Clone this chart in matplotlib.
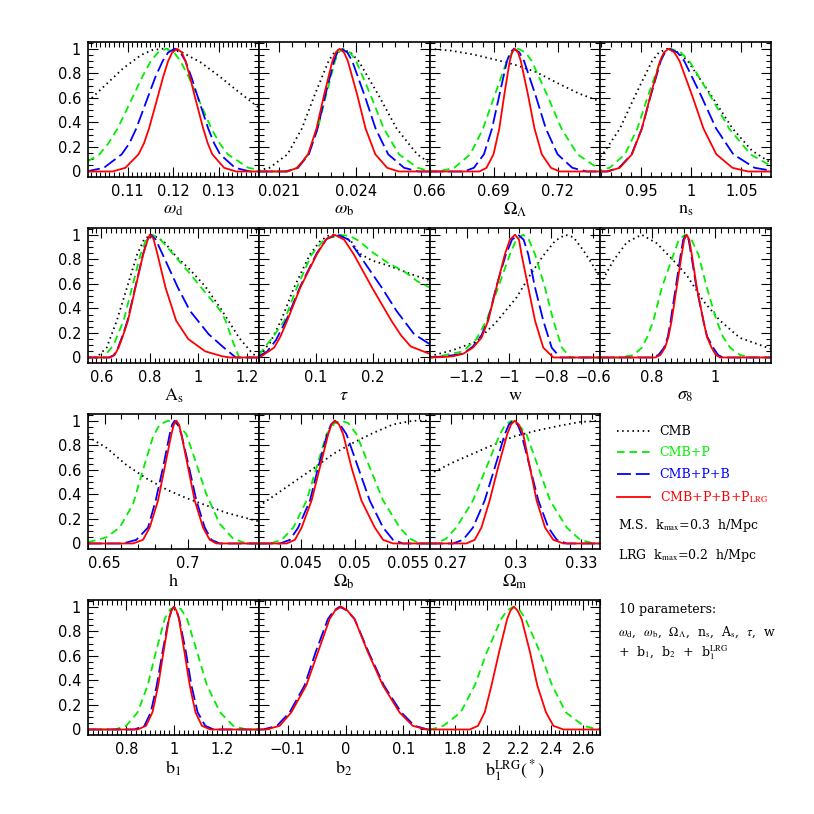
import matplotlib
matplotlib.use('Agg')
import matplotlib.pyplot as plt
from matplotlib.ticker import FixedLocator, MultipleLocator, NullFormatter

plt.rcParams['font.family'] = ['DejaVu Sans']
plt.rcParams['mathtext.fontset'] = 'stix'
plt.rcParams['lines.scale_dashes'] = False

# ---- curves: (x, normalised likelihood) ----
# omega_d
wd_cmb = [(0.1013, 0.57), (0.105, 0.70), (0.109, 0.84), (0.113, 0.95), (0.1155, 0.99), (0.1178, 1.0),
          (0.120, 0.99), (0.122, 0.97), (0.126, 0.89), (0.130, 0.78), (0.134, 0.66), (0.1388, 0.52)]
wd_p = [(0.0989, 0.03), (0.1038, 0.14), (0.1058, 0.23), (0.1078, 0.35), (0.1113, 0.62), (0.1132, 0.77),
        (0.1151, 0.90), (0.1167, 0.97), (0.1185, 1.0), (0.1202, 0.97), (0.1216, 0.90), (0.1234, 0.77),
        (0.1252, 0.62), (0.1284, 0.35), (0.1302, 0.23), (0.1320, 0.14), (0.1365, 0.03), (0.1409, 0.0)]
wd_pb = [(0.1009, 0.0), (0.1048, 0.03), (0.1087, 0.14), (0.1104, 0.23), (0.1119, 0.35), (0.1146, 0.62),
         (0.1161, 0.77), (0.1177, 0.90), (0.1189, 0.97), (0.1204, 1.0), (0.1216, 0.97), (0.1227, 0.90),
         (0.1240, 0.77), (0.1253, 0.62), (0.1277, 0.35), (0.1290, 0.23), (0.1303, 0.14), (0.1336, 0.03),
         (0.1369, 0.0), (0.1390, 0.0)]
wd_lrg = [(0.1010, 0.0), (0.1067, 0.0), (0.1095, 0.03), (0.1124, 0.14), (0.1136, 0.23), (0.1147, 0.35),
          (0.1167, 0.62), (0.1178, 0.77), (0.1189, 0.90), (0.1198, 0.97), (0.1209, 1.0), (0.1219, 0.97),
          (0.1227, 0.90), (0.1237, 0.77), (0.1247, 0.62), (0.1266, 0.35), (0.1276, 0.23), (0.1286, 0.14),
          (0.1312, 0.03), (0.1338, 0.0), (0.1390, 0.0)]

# omega_b
wb_cmb = [(0.0202, 0.01), (0.02062, 0.03), (0.02132, 0.14), (0.02188, 0.35), (0.02237, 0.62), (0.02292, 0.90),
          (0.02314, 0.97), (0.0234, 1.0), (0.02377, 0.97), (0.02409, 0.90), (0.02487, 0.62), (0.02557, 0.35),
          (0.02637, 0.14), (0.02685, 0.07)]
wb_p = [(0.0202, 0.0), (0.02124, 0.0), (0.02168, 0.03), (0.02213, 0.14), (0.0225, 0.35), (0.02282, 0.62),
        (0.02317, 0.90), (0.02331, 0.97), (0.02348, 1.0), (0.02375, 0.97), (0.02399, 0.90), (0.02456, 0.62),
        (0.02507, 0.35), (0.02566, 0.14), (0.02639, 0.03), (0.0269, 0.0)]
wb_pb = [(0.0202, 0.0), (0.0213, 0.0), (0.02173, 0.03), (0.02215, 0.14), (0.02249, 0.35), (0.02279, 0.62),
         (0.02313, 0.90), (0.02326, 0.97), (0.02342, 1.0), (0.02365, 0.97), (0.02384, 0.90), (0.02432, 0.62),
         (0.02475, 0.35), (0.02524, 0.14), (0.02586, 0.03), (0.02642, 0.0), (0.0269, 0.0)]
wb_lrg = [(0.0202, 0.0), (0.0213, 0.0), (0.02171, 0.03), (0.02212, 0.14), (0.02245, 0.35), (0.02274, 0.62),
          (0.02307, 0.90), (0.0232, 0.97), (0.02335, 1.0), (0.02352, 0.97), (0.02367, 0.90), (0.02404, 0.62),
          (0.02436, 0.35), (0.02474, 0.14), (0.0252, 0.03), (0.02565, 0.0), (0.0269, 0.0)]

# Omega_Lambda
ol_cmb = [(0.66, 1.0), (0.67, 0.985), (0.68, 0.955), (0.69, 0.915), (0.70, 0.87), (0.71, 0.81),
          (0.72, 0.72), (0.73, 0.635), (0.74, 0.57)]
ol_p = [(0.66, 0.0), (0.6642, 0.0), (0.6716, 0.03), (0.6791, 0.14), (0.6851, 0.35), (0.6905, 0.62),
        (0.6963, 0.90), (0.6987, 0.97), (0.7015, 1.0), (0.7050, 0.97), (0.7079, 0.90), (0.7152, 0.62),
        (0.7218, 0.35), (0.7293, 0.14), (0.7386, 0.03), (0.74, 0.02)]
ol_pb = [(0.66, 0.0), (0.6762, 0.0), (0.6808, 0.03), (0.6855, 0.14), (0.6893, 0.35), (0.6927, 0.62),
         (0.6963, 0.90), (0.6978, 0.97), (0.6996, 1.0), (0.7021, 0.97), (0.7043, 0.90), (0.7097, 0.62),
         (0.7145, 0.35), (0.7200, 0.14), (0.7269, 0.03), (0.7336, 0.0), (0.74, 0.0)]
ol_lrg = [(0.66, 0.0), (0.6834, 0.0), (0.6867, 0.03), (0.6900, 0.14), (0.6927, 0.35), (0.6950, 0.62),
          (0.6976, 0.90), (0.6987, 0.97), (0.6999, 1.0), (0.7015, 0.97), (0.7028, 0.90), (0.7062, 0.62),
          (0.7092, 0.35), (0.7126, 0.14), (0.7169, 0.03), (0.7210, 0.0), (0.74, 0.0)]

# n_s
ns_cmb = [(0.9096, 0.12), (0.9120, 0.14), (0.9292, 0.35), (0.9444, 0.62), (0.9612, 0.90), (0.9680, 0.97),
          (0.976, 1.0), (0.9871, 0.97), (0.9967, 0.90), (1.0200, 0.62), (1.0412, 0.35), (1.0605, 0.17),
          (1.0795, 0.07)]
ns_p = [(0.904, 0.0), (0.9189, 0.03), (0.9342, 0.14), (0.9465, 0.35), (0.9573, 0.62), (0.9692, 0.90),
        (0.9741, 0.97), (0.9798, 1.0), (0.9897, 0.97), (0.9982, 0.90), (1.0189, 0.62), (1.0378, 0.35),
        (1.0591, 0.14), (1.0795, 0.045)]
ns_pb = [(0.9096, 0.0), (0.9158, 0.0), (0.9282, 0.03), (0.9408, 0.14), (0.9510, 0.35), (0.9599, 0.62),
         (0.9698, 0.90), (0.9738, 0.97), (0.9785, 1.0), (0.9864, 0.97), (0.9932, 0.90), (1.0098, 0.62),
         (1.0249, 0.35), (1.0420, 0.14), (1.0632, 0.03), (1.0795, 0.007)]
ns_lrg = [(0.9096, 0.0), (0.9171, 0.0), (0.9290, 0.03), (0.9412, 0.14), (0.9510, 0.35), (0.9596, 0.62),
          (0.9691, 0.90), (0.9730, 0.97), (0.9775, 1.0), (0.9834, 0.97), (0.9885, 0.90), (1.0010, 0.62),
          (1.0123, 0.35), (1.0251, 0.14), (1.0411, 0.03), (1.0565, 0.0), (1.0795, 0.0)]

# A_s
as_cmb = [(0.53, 0.0), (0.58, 0.0), (0.622, 0.08), (0.664, 0.30), (0.706, 0.57), (0.748, 0.84),
          (0.776, 0.96), (0.804, 1.0), (0.83, 0.98), (0.86, 0.94), (0.91, 0.82), (0.959, 0.73),
          (1.029, 0.58), (1.099, 0.38), (1.169, 0.16), (1.225, 0.03), (1.25, 0.0)]
as_p = [(0.53, 0.0), (0.608, 0.0), (0.65, 0.10), (0.692, 0.30), (0.727, 0.57), (0.762, 0.84),
        (0.785, 0.96), (0.811, 1.0), (0.84, 0.97), (0.88, 0.88), (0.959, 0.70), (1.029, 0.53),
        (1.092, 0.38), (1.113, 0.30), (1.141, 0.14), (1.169, 0.0), (1.25, 0.0)]
as_pb = [(0.53, 0.0), (0.632, 0.0), (0.652, 0.02), (0.669, 0.08), (0.69, 0.19), (0.708, 0.30),
         (0.740, 0.57), (0.772, 0.84), (0.79, 0.96), (0.804, 1.0), (0.825, 0.96), (0.853, 0.84),
         (0.916, 0.57), (0.966, 0.38), (1.043, 0.19), (1.106, 0.08), (1.155, 0.0), (1.25, 0.0)]
as_lrg = [(0.53, 0.0), (0.636, 0.0), (0.655, 0.02), (0.671, 0.08), (0.69, 0.18), (0.710, 0.30),
          (0.741, 0.57), (0.773, 0.84), (0.79, 0.95), (0.80, 1.0), (0.815, 0.97), (0.832, 0.84),
          (0.865, 0.57), (0.909, 0.30), (0.959, 0.15), (1.029, 0.05), (1.099, 0.01), (1.13, 0.0), (1.25, 0.0)]

# tau
tau_cmb = [(0.0, 0.03), (0.005, 0.04), (0.02, 0.12), (0.039, 0.30), (0.062, 0.57), (0.090, 0.84),
           (0.108, 0.95), (0.125, 1.0), (0.145, 0.99), (0.162, 0.95), (0.176, 0.85), (0.199, 0.79),
           (0.227, 0.75), (0.250, 0.71), (0.273, 0.67), (0.30, 0.63)]
tau_p = [(0.0, 0.02), (0.010, 0.08), (0.027, 0.18), (0.045, 0.30), (0.067, 0.57), (0.093, 0.84),
         (0.115, 0.96), (0.142, 1.0), (0.160, 0.99), (0.176, 0.95), (0.199, 0.86), (0.227, 0.77),
         (0.256, 0.70), (0.279, 0.62), (0.30, 0.57)]
tau_pb = [(0.0, 0.01), (0.015, 0.05), (0.030, 0.14), (0.050, 0.32), (0.073, 0.58), (0.102, 0.85),
          (0.12, 0.97), (0.139, 1.0), (0.158, 0.96), (0.176, 0.84), (0.216, 0.57), (0.242, 0.38),
          (0.273, 0.19), (0.30, 0.11)]
tau_lrg = [(0.0, 0.0), (0.0046, 0.01), (0.027, 0.08), (0.038, 0.17), (0.050, 0.30), (0.073, 0.57),
           (0.102, 0.84), (0.118, 0.96), (0.133, 1.0), (0.150, 0.96), (0.167, 0.84), (0.199, 0.57),
           (0.233, 0.30), (0.250, 0.18), (0.267, 0.09), (0.30, 0.03)]

# w
w_cmb = [(-1.376, 0.01), (-1.265, 0.06), (-1.154, 0.13), (-1.059, 0.29), (-0.963, 0.49), (-0.90, 0.67),
         (-0.837, 0.83), (-0.781, 0.95), (-0.733, 1.0), (-0.694, 0.98), (-0.646, 0.87), (-0.598, 0.74),
         (-0.567, 0.65)]
w_p = [(-1.376, 0.0), (-1.329, 0.01), (-1.217, 0.05), (-1.154, 0.15), (-1.106, 0.30), (-1.051, 0.57),
       (-0.995, 0.84), (-0.965, 0.96), (-0.932, 1.0), (-0.905, 0.96), (-0.876, 0.84), (-0.829, 0.57),
       (-0.789, 0.30), (-0.749, 0.08), (-0.710, 0.0), (-0.567, 0.0)]
w_pb = [(-1.376, 0.0), (-1.30, 0.01), (-1.217, 0.03), (-1.17, 0.09), (-1.13, 0.18), (-1.098, 0.31),
        (-1.059, 0.58), (-1.014, 0.84), (-0.985, 0.96), (-0.956, 1.0), (-0.93, 0.96), (-0.908, 0.84),
        (-0.876, 0.57), (-0.837, 0.30), (-0.797, 0.08), (-0.757, 0.0), (-0.567, 0.0)]
w_lrg = [(-1.376, 0.0), (-1.30, 0.005), (-1.265, 0.01), (-1.217, 0.03), (-1.170, 0.08), (-1.130, 0.16),
         (-1.098, 0.30), (-1.059, 0.57), (-1.019, 0.84), (-0.995, 0.96), (-0.971, 1.0), (-0.952, 0.96),
         (-0.940, 0.84), (-0.908, 0.57), (-0.876, 0.30), (-0.837, 0.08), (-0.789, 0.0), (-0.567, 0.0)]

# sigma_8
s8_cmb = [(0.635, 0.60), (0.640, 0.62), (0.677, 0.79), (0.720, 0.94), (0.767, 1.0), (0.815, 0.93),
          (0.868, 0.79), (0.910, 0.67), (0.963, 0.46), (1.016, 0.30), (1.079, 0.16), (1.178, 0.07)]
s8_p = [(0.635, 0.0), (0.698, 0.0), (0.741, 0.02), (0.767, 0.08), (0.785, 0.17), (0.804, 0.30),
        (0.831, 0.57), (0.868, 0.84), (0.885, 0.96), (0.905, 1.0), (0.925, 0.96), (0.947, 0.84),
        (0.974, 0.57), (1.005, 0.30), (1.025, 0.17), (1.048, 0.08), (1.08, 0.02), (1.111, 0.0), (1.178, 0.0)]
s8_pb = [(0.635, 0.0), (0.800, 0.0), (0.82, 0.02), (0.838, 0.08), (0.850, 0.17), (0.859, 0.30),
         (0.875, 0.57), (0.891, 0.84), (0.899, 0.96), (0.907, 1.0), (0.916, 0.96), (0.924, 0.84),
         (0.941, 0.57), (0.963, 0.30), (0.975, 0.17), (0.994, 0.08), (1.01, 0.02), (1.025, 0.0), (1.178, 0.0)]
s8_lrg = [(0.635, 0.0), (0.810, 0.0), (0.826, 0.02), (0.841, 0.08), (0.852, 0.17), (0.862, 0.30),
          (0.878, 0.57), (0.894, 0.84), (0.902, 0.96), (0.910, 1.0), (0.918, 0.96), (0.926, 0.84),
          (0.942, 0.57), (0.963, 0.30), (0.974, 0.17), (0.989, 0.08), (1.003, 0.02), (1.016, 0.0), (1.178, 0.0)]

# h
h_cmb = [(0.640, 0.87), (0.651, 0.78), (0.663, 0.64), (0.675, 0.53), (0.687, 0.44), (0.699, 0.37),
         (0.711, 0.31), (0.723, 0.25), (0.7424, 0.18)]
h_p = [(0.64, 0.01), (0.651, 0.05), (0.659, 0.13), (0.667, 0.32), (0.673, 0.60), (0.679, 0.87),
       (0.683, 0.97), (0.688, 1.0), (0.694, 0.97), (0.699, 0.89), (0.705, 0.65), (0.711, 0.40),
       (0.719, 0.16), (0.727, 0.04), (0.735, 0.0), (0.7424, 0.0)]
h_pb = [(0.64, 0.0), (0.661, 0.0), (0.669, 0.03), (0.676, 0.13), (0.6806, 0.35), (0.685, 0.62),
        (0.689, 0.89), (0.6905, 0.97), (0.692, 1.0), (0.6937, 0.97), (0.696, 0.89), (0.7006, 0.62),
        (0.705, 0.35), (0.710, 0.13), (0.714, 0.03), (0.719, 0.0), (0.7424, 0.0)]
h_lrg = [(0.64, 0.0), (0.667, 0.0), (0.673, 0.03), (0.677, 0.13), (0.682, 0.35), (0.686, 0.62),
         (0.690, 0.89), (0.6915, 0.97), (0.693, 1.0), (0.6945, 0.97), (0.696, 0.89), (0.700, 0.62),
         (0.704, 0.35), (0.709, 0.13), (0.713, 0.03), (0.717, 0.0), (0.7424, 0.0)]

# Omega_b
ob_cmb = [(0.04103, 0.30), (0.04112, 0.31), (0.04361, 0.46), (0.04611, 0.61), (0.04798, 0.73),
          (0.04984, 0.82), (0.05171, 0.90), (0.05358, 0.97), (0.05545, 1.0), (0.0570, 1.0)]
ob_p = [(0.041, 0.0), (0.04206, 0.0), (0.04315, 0.03), (0.04424, 0.13), (0.04548, 0.35), (0.04642, 0.62),
        (0.04735, 0.89), (0.0481, 0.98), (0.04875, 1.0), (0.0494, 0.98), (0.05016, 0.89), (0.0514, 0.62),
        (0.05265, 0.35), (0.05421, 0.13), (0.05514, 0.04), (0.05607, 0.0), (0.057, 0.0)]
ob_pb = [(0.041, 0.0), (0.04299, 0.0), (0.04393, 0.03), (0.0447, 0.13), (0.0458, 0.35), (0.04657, 0.62),
         (0.04741, 0.89), (0.04777, 0.97), (0.04813, 1.0), (0.0486, 0.97), (0.04922, 0.89), (0.05031, 0.62),
         (0.0514, 0.35), (0.05265, 0.13), (0.05358, 0.03), (0.05452, 0.0), (0.057, 0.0)]
ob_lrg = [(0.041, 0.0), (0.04361, 0.0), (0.04439, 0.03), (0.04502, 0.13), (0.04595, 0.35), (0.04673, 0.62),
          (0.04751, 0.89), (0.04782, 0.97), (0.04813, 1.0), (0.04852, 0.97), (0.04891, 0.89), (0.04969, 0.62),
          (0.05062, 0.35), (0.05187, 0.13), (0.05265, 0.03), (0.05358, 0.0), (0.057, 0.0)]

# Omega_m
om_cmb = [(0.2601, 0.565), (0.2709, 0.66), (0.2864, 0.78), (0.2988, 0.87), (0.3096, 0.92),
          (0.3204, 0.96), (0.3297, 0.99), (0.339, 1.0)]
om_p = [(0.26, 0.0), (0.2632, 0.0), (0.2678, 0.04), (0.2725, 0.13), (0.2802, 0.35), (0.2864, 0.62),
        (0.2926, 0.89), (0.2952, 0.97), (0.298, 1.0), (0.3012, 0.97), (0.3049, 0.89), (0.3104, 0.62),
        (0.3158, 0.35), (0.3235, 0.13), (0.3297, 0.03), (0.3359, 0.0), (0.339, 0.0)]
om_pb = [(0.26, 0.0), (0.2709, 0.0), (0.2756, 0.03), (0.2802, 0.13), (0.2856, 0.35), (0.2903, 0.62),
         (0.2949, 0.89), (0.2968, 0.97), (0.2988, 1.0), (0.3008, 0.97), (0.3026, 0.89), (0.3065, 0.62),
         (0.3104, 0.35), (0.315, 0.13), (0.3189, 0.03), (0.3235, 0.0), (0.339, 0.0)]
om_lrg = [(0.26, 0.0), (0.2771, 0.0), (0.281, 0.03), (0.2841, 0.13), (0.2879, 0.35), (0.2918, 0.62),
          (0.296, 0.89), (0.2978, 0.97), (0.2995, 1.0), (0.3013, 0.97), (0.3034, 0.89), (0.3065, 0.62),
          (0.3096, 0.35), (0.3135, 0.13), (0.3173, 0.03), (0.322, 0.0), (0.339, 0.0)]

# b_1
b1_p = [(0.64, 0.0), (0.752, 0.0), (0.80, 0.03), (0.848, 0.14), (0.890, 0.36), (0.924, 0.63),
        (0.961, 0.9), (0.984, 0.98), (1.007, 1.0), (1.03, 0.98), (1.055, 0.9), (1.097, 0.63),
        (1.138, 0.36), (1.193, 0.14), (1.248, 0.03), (1.303, 0.0), (1.355, 0.0)]
b1_pb = [(0.64, 0.0), (0.834, 0.0), (0.876, 0.03), (0.903, 0.14), (0.928, 0.36), (0.952, 0.63),
         (0.978, 0.9), (0.989, 0.97), (1.0, 1.0), (1.011, 0.97), (1.022, 0.9), (1.050, 0.63),
         (1.073, 0.36), (1.099, 0.14), (1.131, 0.03), (1.166, 0.0), (1.355, 0.0)]
b1_lrg = [(0.64, 0.0), (0.848, 0.0), (0.883, 0.03), (0.910, 0.14), (0.934, 0.36), (0.956, 0.63),
          (0.979, 0.9), (0.99, 0.97), (1.0, 1.0), (1.01, 0.97), (1.021, 0.9), (1.044, 0.63),
          (1.066, 0.36), (1.090, 0.14), (1.117, 0.03), (1.152, 0.0), (1.355, 0.0)]

# b_2
b2_pb = [(-0.15, 0.0), (-0.1425, 0.0), (-0.1184, 0.03), (-0.0966, 0.14), (-0.0707, 0.36), (-0.0517, 0.63),
         (-0.0305, 0.9), (-0.02, 0.97), (-0.0103, 1.0), (0.002, 0.97), (0.0155, 0.9), (0.0397, 0.63),
         (0.0661, 0.36), (0.096, 0.14), (0.119, 0.03), (0.142, 0.0), (0.145, 0.0)]
b2_lrg = [(-0.15, 0.0), (-0.1367, 0.0), (-0.1138, 0.03), (-0.0937, 0.14), (-0.0678, 0.36), (-0.0477, 0.63),
          (-0.0276, 0.9), (-0.018, 0.97), (-0.0075, 1.0), (0.003, 0.97), (0.0155, 0.9), (0.0385, 0.63),
          (0.0644, 0.36), (0.0931, 0.14), (0.116, 0.03), (0.139, 0.0), (0.145, 0.0)]

# b_1^LRG
bl_p = [(1.644, 0.0), (1.68, 0.01), (1.73, 0.03), (1.838, 0.14), (1.925, 0.36), (2.0, 0.63),
        (2.089, 0.9), (2.125, 0.97), (2.165, 1.0), (2.205, 0.97), (2.24, 0.9), (2.33, 0.63),
        (2.405, 0.36), (2.49, 0.14), (2.6, 0.03), (2.66, 0.01), (2.704, 0.0)]
bl_lrg = [(1.644, 0.0), (1.894, 0.0), (1.945, 0.03), (1.987, 0.14), (2.029, 0.36), (2.076, 0.63),
          (2.126, 0.9), (2.147, 0.97), (2.168, 1.0), (2.19, 0.97), (2.216, 0.9), (2.268, 0.63),
          (2.313, 0.36), (2.367, 0.14), (2.413, 0.03), (2.475, 0.0), (2.704, 0.0)]

# axis ranges, tick values and tick labels
wd_lim, wd_ticks, wd_labels, wd_minor = (0.1013, 0.1388), [0.11, 0.12, 0.13], ['0.11', '0.12', '0.13'], 0.001
wb_lim, wb_ticks, wb_labels, wb_minor = (0.0202, 0.02685), [0.021, 0.024], ['0.021', '0.024'], 0.0005
ol_lim, ol_ticks, ol_labels, ol_minor = (0.66, 0.74), [0.66, 0.69, 0.72], ['0.66', '0.69', '0.72'], 0.005
ns_lim, ns_ticks, ns_labels, ns_minor = (0.9096, 1.0795), [0.95, 1.0, 1.05], ['0.95', '1', '1.05'], 0.01
as_lim, as_ticks, as_labels, as_minor = (0.545, 1.25), [0.6, 0.8, 1.0, 1.2], ['0.6', '0.8', '1', '1.2'], 0.02
tau_lim, tau_ticks, tau_labels, tau_minor = (0.0, 0.3), [0.1, 0.2], ['0.1', '0.2'], 0.01
w_lim, w_ticks, w_labels, w_minor = (-1.376, -0.567), [-1.2, -1.0, -0.8, -0.6], ['\u22121.2', '\u22121', '\u22120.8', '\u22120.6'], 0.05
s8_lim, s8_ticks, s8_labels, s8_minor = (0.635, 1.178), [0.8, 1.0], ['0.8', '1'], 0.02
h_lim, h_ticks, h_labels, h_minor = (0.64, 0.7424), [0.65, 0.7], ['0.65', '0.7'], 0.01
ob_lim, ob_ticks, ob_labels, ob_minor = (0.041, 0.057), [0.045, 0.05, 0.055], ['0.045', '0.05', '0.055'], 0.001
om_lim, om_ticks, om_labels, om_minor = (0.2601, 0.339), [0.27, 0.3, 0.33], ['0.27', '0.3', '0.33'], 0.005
b1_lim, b1_ticks, b1_labels, b1_minor = (0.64, 1.355), [0.8, 1.0, 1.2], ['0.8', '1', '1.2'], 0.02
b2_lim, b2_ticks, b2_labels, b2_minor = (-0.15, 0.145), [-0.1, 0.0, 0.1], ['\u22120.1', '0', '0.1'], 0.01
bl_lim, bl_ticks, bl_labels, bl_minor = (1.644, 2.704), [1.8, 2.0, 2.2, 2.4, 2.6], ['1.8', '2', '2.2', '2.4', '2.6'], 0.025

y_ticks = [0, 0.2, 0.4, 0.6, 0.8, 1.0]
y_labels = ['0', '0.2', '0.4', '0.6', '0.8', '1']

series_names = ['CMB', 'CMB+P', 'CMB+P+B', r'CMB+P+B+P$_{\rm LRG}$']

styles = [
    dict(color='black', ls=(0, (1.1, 2.6)), lw=1.3),
    dict(color='#00ee00', ls=(0, (5.5, 3.5)), lw=1.3),
    dict(color='#0000ff', ls=(0, (10, 3.5)), lw=1.3),
    dict(color='#ff0000', ls='-', lw=1.3),
]

# (row, col, xlabel, limits, ticks, labels, minor step, [cmb, p, pb, lrg])
panels = [
    (0, 0, r'$\omega_{\rm d}$', wd_lim, wd_ticks, wd_labels, wd_minor, [wd_cmb, wd_p, wd_pb, wd_lrg]),
    (0, 1, r'$\omega_{\rm b}$', wb_lim, wb_ticks, wb_labels, wb_minor, [wb_cmb, wb_p, wb_pb, wb_lrg]),
    (0, 2, r'$\Omega_\Lambda$', ol_lim, ol_ticks, ol_labels, ol_minor, [ol_cmb, ol_p, ol_pb, ol_lrg]),
    (0, 3, r'$\mathrm{n}_{\rm s}$', ns_lim, ns_ticks, ns_labels, ns_minor, [ns_cmb, ns_p, ns_pb, ns_lrg]),
    (1, 0, r'$\mathrm{A}_{\rm s}$', as_lim, as_ticks, as_labels, as_minor, [as_cmb, as_p, as_pb, as_lrg]),
    (1, 1, r'$\tau$', tau_lim, tau_ticks, tau_labels, tau_minor, [tau_cmb, tau_p, tau_pb, tau_lrg]),
    (1, 2, r'$\mathrm{w}$', w_lim, w_ticks, w_labels, w_minor, [w_cmb, w_p, w_pb, w_lrg]),
    (1, 3, r'$\sigma_8$', s8_lim, s8_ticks, s8_labels, s8_minor, [s8_cmb, s8_p, s8_pb, s8_lrg]),
    (2, 0, r'$\mathrm{h}$', h_lim, h_ticks, h_labels, h_minor, [h_cmb, h_p, h_pb, h_lrg]),
    (2, 1, r'$\Omega_{\rm b}$', ob_lim, ob_ticks, ob_labels, ob_minor, [ob_cmb, ob_p, ob_pb, ob_lrg]),
    (2, 2, r'$\Omega_{\rm m}$', om_lim, om_ticks, om_labels, om_minor, [om_cmb, om_p, om_pb, om_lrg]),
    (3, 0, r'$\mathrm{b}_1$', b1_lim, b1_ticks, b1_labels, b1_minor, [None, b1_p, b1_pb, b1_lrg]),
    (3, 1, r'$\mathrm{b}_2$', b2_lim, b2_ticks, b2_labels, b2_minor, [None, None, b2_pb, b2_lrg]),
    (3, 2, r'$\mathrm{b}_1^{\rm LRG}(^*)$', bl_lim, bl_ticks, bl_labels, bl_minor, [None, bl_p, None, bl_lrg]),
]

# layout in pixels of the 814x814 canvas
S = 814.0
col_left = [88, 258.75, 429.5, 600.25]
row_top = [42, 228, 414, 600]
W, H = 170.75, 135

fig = plt.figure(figsize=(8.14, 8.14), dpi=100)
handles = None

for row, col, xlab, lim, ticks, labels, minor, curves in panels:
    ax = fig.add_axes([col_left[col] / S, 1 - (row_top[row] + H) / S, W / S, H / S])
    lines = []
    for k, pts in enumerate(curves):
        if pts is None:
            continue
        xs = [p[0] for p in pts]
        ys = [p[1] for p in pts]
        ln, = ax.plot(xs, ys, label=series_names[k], **styles[k])
        lines.append(ln)
    if row == 0 and col == 0:
        handles = lines
    ax.set_xlim(*lim)
    ax.set_ylim(-0.045, 1.055)
    ax.xaxis.set_major_locator(FixedLocator(ticks))
    ax.set_xticklabels(labels)
    ax.xaxis.set_minor_locator(MultipleLocator(minor))
    ax.yaxis.set_major_locator(FixedLocator(y_ticks))
    ax.yaxis.set_minor_locator(MultipleLocator(0.05))
    if col == 0:
        ax.set_yticklabels(y_labels)
    else:
        ax.yaxis.set_major_formatter(NullFormatter())
    ax.tick_params(which='both', direction='in', top=True, right=True, width=0.8, labelsize=10.5)
    ax.tick_params(which='major', length=7, pad=5)
    ax.tick_params(which='minor', length=3.5)
    for sp in ax.spines.values():
        sp.set_linewidth(1.2)
    ax.set_xlabel(xlab, fontsize=13, labelpad=1)

leg = fig.legend(handles=handles, loc='upper left', bbox_to_anchor=(617 / S, 1 - 425 / S),
                 frameon=False, borderpad=0, borderaxespad=0, handlelength=2.6,
                 handletextpad=0.8, labelspacing=0.68, labelcolor='linecolor',
                 prop={'family': 'DejaVu Serif', 'size': 9})

txt = dict(family='DejaVu Serif', fontsize=9, va='center', ha='left')
fig.text(618 / S, 1 - 526 / S, r'M.S.  k$_{\rm max}$=0.3  h/Mpc', **txt)
fig.text(618 / S, 1 - 555 / S, r'LRG  k$_{\rm max}$=0.2  h/Mpc', **txt)
fig.text(619 / S, 1 - 609 / S, '10 parameters:', **txt)
fig.text(618 / S, 1 - 632 / S,
         r'$\omega_{\rm d}$,  $\omega_{\rm b}$,  $\Omega_\Lambda$,  n$_{\rm s}$,  A$_{\rm s}$,  $\tau$,  w', **txt)
fig.text(618 / S, 1 - 653 / S, r'+  b$_1$,  b$_2$  +  b$_1^{\rm LRG}$', **txt)

fig.savefig('out.png', dpi=100)
